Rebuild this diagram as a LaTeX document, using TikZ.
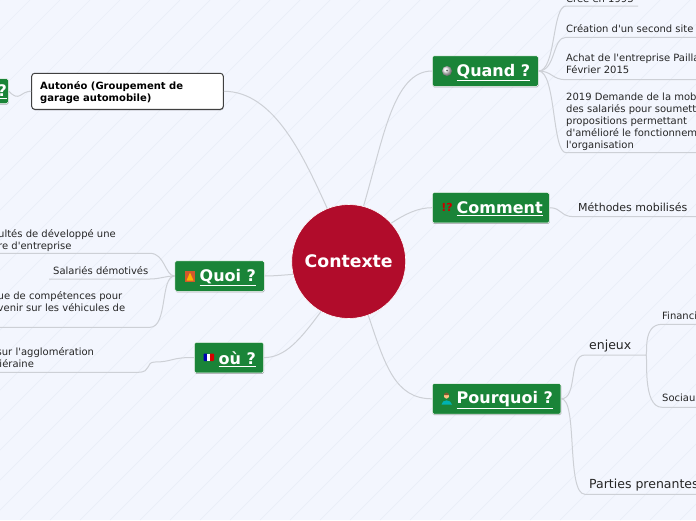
\documentclass[tikz,border=0pt]{standalone}
\usepackage{fontspec}
\setmainfont{DejaVu Sans}[Ligatures=TeXOff]
\usetikzlibrary{calc, positioning}
\usetikzlibrary{shadows}
\definecolor{paper}{HTML}{F3F6FE}
\definecolor{paperline}{HTML}{EAEEF8}
\definecolor{branch}{HTML}{CDD0D6}
\definecolor{topicgreen}{HTML}{1A8438}
\definecolor{hubred}{HTML}{B10C2B}
\tikzset{
  link/.style={draw=branch, line width=1pt},
  topic/.style={draw=white, line width=0.5pt, fill=topicgreen, rounded corners=1.5pt, minimum height=30.5pt,
    inner sep=0pt, drop shadow={shadow xshift=0.4pt, shadow yshift=-1pt, fill=black, opacity=0.3}},
  topictxt/.style={anchor=west, inner sep=0pt, text=white, font=\fontsize{16}{16}\selectfont\bfseries},
  leaf/.style={anchor=west, inner sep=0pt, align=left, text=black!85, font=\fontsize{10}{12}\selectfont},
  bigleaf/.style={anchor=west, inner sep=0pt, text=black!85, font=\fontsize{12.5}{14}\selectfont},
}
\newcommand{\topiclabel}[1]{\underline{#1}}
\begin{document}
\begin{tikzpicture}[x=1pt, y=-1pt]
\useasboundingbox (0,0) rectangle (696,520);
\clip (0,0) rectangle (696,520);
\fill[paper] (0,0) rectangle (696,520);
\foreach \i in {-520,-490,...,696}
  \draw[paperline, line width=0.7pt] (\i,520) -- ++(520,-520);

\node[circle, fill=hubred, draw=white, line width=0.6pt, minimum size=114pt, inner sep=0pt, text=white,
  font=\fontsize{17.3}{17}\selectfont\bfseries] (hub) at (348.7,261.5) {Contexte};

% topics
\node[topic, minimum width=106pt] (quand) at (485.3,71) {};
\node[topic, minimum width=117pt] (comment) at (490.8,207.7) {};
\node[topic, minimum width=128.7pt] (pourquoi) at (496.6,398.8) {};
\node[topic, minimum width=89.3pt] (quoi) at (219.6,276) {};
\node[topic, minimum width=69.4pt] (ou) at (229,357.6) {};
\node[topic, minimum width=50pt, minimum height=25pt] (qui) at (-16.7,91) {};
\node[topictxt] (quandtxt) at (456.5,72.5) {\topiclabel{Quand ?}};
\node[topictxt] (commenttxt) at (456.5,209) {\topiclabel{Comment}};
\node[topictxt] (pourquoitxt) at (456.5,400.5) {\topiclabel{Pourquoi ?}};
\node[topictxt] (quoitxt) at (199.5,277.5) {\topiclabel{Quoi ?}};
\node[topictxt] (outxt) at (218.5,359) {\topiclabel{où ?}};
\node[topictxt, anchor=east] (quitxt) at (7,92) {\topiclabel{?}};

% icons
\shade[ball color=white!80!gray] (447,71) circle (5);
\fill[black!60] (447,70.5) circle (1);
\node[inner sep=0pt, text=red!80!black, font=\fontsize{11}{11}\selectfont\bfseries] (commenticon) at (447,207.7) {!?};
\fill[teal!60!cyan] (441.5,404.5) .. controls (442,399) and (451,399) .. (452,404.5) -- cycle;
\fill[orange!50!white] (446.5,396) circle (2.6);
\fill[brown!70!black] (444,395) arc[start angle=180, end angle=360, radius=2.5] -- cycle;
\fill[brown!70!red] (185,270.5) rectangle (195,281.5);
\fill[orange!60!yellow] (186.5,280.5) -- (190,272.5) -- (193.5,280.5) -- cycle;
\fill[blue!70!black, rounded corners=0.8pt] (203.5,353.5) rectangle (208,361);
\fill[red!85!black, rounded corners=0.8pt] (209.5,353.5) rectangle (214,361);
\fill[white] (207,353.5) rectangle (210.3,361);

\node[draw=black!75, line width=1pt, fill=white, rounded corners=3pt, minimum width=191.6pt, minimum height=36pt,
  inner sep=0pt, drop shadow={shadow xshift=0.4pt, shadow yshift=-1pt, fill=black, opacity=0.3}] (autoneo) at (127.5,91.3) {};
\node[anchor=west, inner sep=0pt, align=left, font=\fontsize{10}{12}\selectfont\bfseries] (autoneotxt) at (40,93) {Autonéo (Groupement de\\garage automobile)};

% leaves of Quand
\node[leaf] (cree) at (566,-1) {Créé en 1993};
\node[leaf] (second) at (566,29) {Création d'un second site};
\node[leaf, anchor=north west] (achat) at (566,54) {Achat de l'entreprise Pailla\\Février 2015};
\node[leaf, anchor=north west] (demande) at (566,92.5) {2019 Demande de la mob\\des salariés pour soumett\\propositions permettant\\d'amélioré le fonctionnem\\l'organisation};
\coordinate (creeA) at (566,6);
\coordinate (creeB) at (638,6);
\coordinate (secondA) at (566,37.3);
\coordinate (secondB) at (696,37.3);
\coordinate (achatA) at (566,79.7);
\coordinate (achatB) at (696,79.7);
\coordinate (demandeA) at (566,152.7);
\coordinate (demandeB) at (696,152.7);

% leaf of Comment
\node[leaf, font=\fontsize{11}{12}\selectfont] (methodes) at (578,207.5) {Méthodes mobilisés};
\coordinate (methodesA) at (574,216.7);
\coordinate (methodesB) at (696,216.7);

% leaves of Pourquoi
\node[bigleaf] (enjeux) at (589,346) {enjeux};
\node[bigleaf] (parties) at (589,485.5) {Parties prenantes};
\node[leaf] (financi) at (662,316) {Financi};
\node[leaf] (sociau) at (662,398) {Sociau};
\coordinate (enjeuxA) at (585,355);
\coordinate (enjeuxB) at (646,355);
\coordinate (partiesA) at (585,494.3);
\coordinate (partiesB) at (696,494.3);
\coordinate (financiA) at (662,324.3);
\coordinate (financiB) at (696,324.3);
\coordinate (sociauA) at (662,407.3);
\coordinate (sociauB) at (696,407.3);

% leaves of Quoi and où
\node[leaf] (difficultes) at (-2,240.5) {ultés de développé une\\re d'entreprise};
\node[leaf] (salaries) at (53,271) {Salariés démotivés};
\node[leaf] (manque) at (-2.5,302) {ue de compétences pour\\venir sur les véhicules de};
\node[leaf] (agglo) at (-3.5,358) {sur l'agglomération\\liéraine};
\coordinate (difficultesA) at (150,253.3);
\coordinate (difficultesB) at (0,253.3);
\coordinate (salariesA) at (150,279);
\coordinate (salariesB) at (49,279);
\coordinate (manqueA) at (150,327.3);
\coordinate (manqueB) at (0,327.3);
\coordinate (aggloA) at (138,372.3);
\coordinate (aggloB) at (0,372.3);

% hub links
\draw[link] (hub.75) .. controls (383,140) and (393,71) .. (quand.west);
\draw[link] (hub.42) .. controls (405,214) and (418,207.7) .. (comment.west);
\draw[link] (hub.-70) .. controls (385,365) and (395,398.8) .. (pourquoi.west);
\draw[link] (hub.112) .. controls (305,160) and (275,91) .. (autoneo.east);
\draw[link] (hub.193) .. controls (283,275) and (275,276) .. (quoi.east);
\draw[link] (hub.-119) .. controls (300,340) and (285,357.6) .. (ou.east);

% Quand links
\draw[link] (quand.east) .. controls (556,71) and (552,6) .. (creeA) -- (creeB);
\draw[link] (quand.east) .. controls (556,71) and (552,37.3) .. (secondA) -- (secondB);
\draw[link] (quand.east) .. controls (552,71) and (552,79.7) .. (achatA) -- (achatB);
\draw[link] (quand.east) .. controls (556,71) and (552,152.7) .. (demandeA) -- (demandeB);
% Comment link
\draw[link] (comment.east) .. controls (562,207.7) and (560,216.7) .. (methodesA) -- (methodesB);
% Pourquoi links
\draw[link] (pourquoi.east) .. controls (578,398.8) and (568,355) .. (enjeuxA) -- (enjeuxB);
\draw[link] (pourquoi.east) .. controls (578,398.8) and (566,494.3) .. (partiesA) -- (partiesB);
\draw[link] (enjeuxB) .. controls (648,355) and (642,324.3) .. (financiA) -- (financiB);
\draw[link] (enjeuxB) .. controls (648,355) and (642,407.3) .. (sociauA) -- (sociauB);
% Quoi links
\draw[link] (quoi.west) .. controls (165,276) and (165,253.3) .. (difficultesA) -- (difficultesB);
\draw[link] (quoi.west) .. controls (165,276) and (160,279) .. (salariesA) -- (salariesB);
\draw[link] (quoi.west) .. controls (160,276) and (168,327.3) .. (manqueA) -- (manqueB);
% où and Autonéo links
\draw[link] (ou.west) .. controls (172,357) and (172,362) .. (155,362) .. controls (145,362) and (152,372.3) .. (aggloA) -- (aggloB);
\draw[link] (autoneo.west) .. controls (20,91) and (20,103) .. (qui.east);
\end{tikzpicture}
\end{document}
